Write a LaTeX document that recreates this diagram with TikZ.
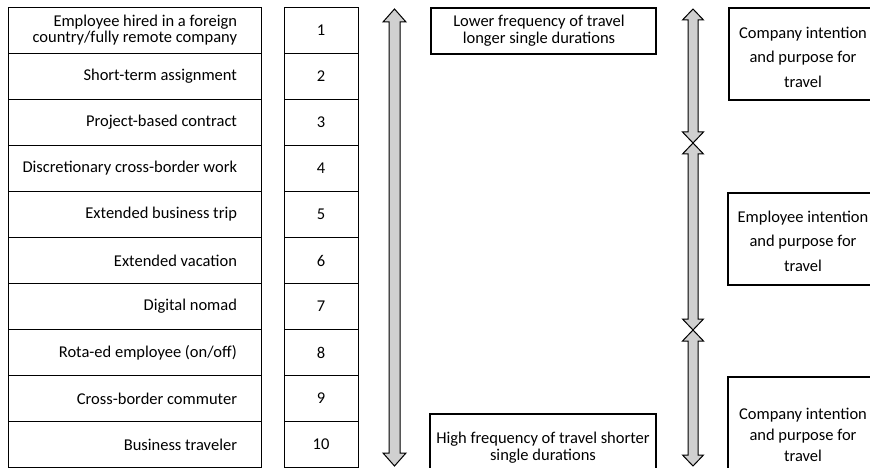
\documentclass[tikz,border=0pt]{standalone}
\usepackage{fontspec}
\setmainfont{Carlito}
\newcommand{\myfsA}{\fontsize{16.5}{16}\selectfont}
\newcommand{\myfsM}{\fontsize{16.5}{17}\selectfont}
\newcommand{\myfsB}{\fontsize{16.5}{24.5}\selectfont}
\newcommand{\myfsC}{\fontsize{16.5}{21}\selectfont}
\newcommand{\vdarr}[6]{%
  \draw[arrshape] (#1,#2) -- ({#1+#5},{#2+#6}) -- ({#1+#4},{#2+#6}) -- ({#1+#4},{#3-#6}) -- ({#1+#5},{#3-#6}) -- (#1,#3)
    -- ({#1-#5},{#3-#6}) -- ({#1-#4},{#3-#6}) -- ({#1-#4},{#2+#6}) -- ({#1-#5},{#2+#6}) -- cycle;}
\definecolor{arrgray}{RGB}{208,208,208}
\begin{document}
\begin{tikzpicture}[x=1pt,y=-1pt,
  every node/.style={inner sep=0pt, outer sep=0pt},
  lcell/.style={draw, line width=1pt, minimum width=253pt, minimum height=46pt},
  ncell/.style={draw, line width=1pt, minimum width=74pt, minimum height=46pt, font=\myfsA},
  ltext/.style={anchor=east, align=right, font=\myfsA},
  midbox/.style={draw, line width=1.6pt},
  midtext/.style={align=center, font=\myfsM},
  rbox/.style={draw, line width=1.6pt},
  rtext/.style={align=center, font=\myfsB},
  arrshape/.style={draw=black, fill=arrgray, line width=1pt, line join=miter}
]
\useasboundingbox (0,0) rectangle (870,468);
\clip (0,0) rectangle (870,468);
% left table
\foreach \i/\t in {1/{Employee hired in a foreign\\country/fully remote company},
                   2/{Short-term assignment},
                   3/{Project-based contract},
                   4/{Discretionary cross-border work},
                   5/{Extended business trip},
                   6/{Extended vacation},
                   7/{Digital nomad},
                   8/{Rota-ed employee (on/off)},
                   9/{Cross-border commuter},
                   10/{Business traveler}}{
  \node[lcell] (l\i) at (134.5, {7.5+46*(\i-1)+23}) {};
  \node[ltext] (lt\i) at (237, {7.5+46*(\i-1)+23}) {\t};
  \node[ncell] (n\i) at (321, {7.5+46*(\i-1)+23}) {\i};
}
% big arrow
\vdarr{394.5}{9}{466}{5.5}{11.5}{13}
% middle boxes
\draw[midbox] (431,8) rectangle (656,54);
\node[midtext] (top) at (539,31) {Lower frequency of travel\\longer single durations};
\draw[midbox] (430,414) rectangle (656,474);
\node[midtext] (bot) at (543,448) {High frequency of travel shorter\\single durations};
% right arrows
\vdarr{693}{9}{143}{5}{10.5}{11}
\vdarr{693}{143}{330}{5}{10.5}{11}
\vdarr{693}{330}{466}{5}{10.5}{11}
% right boxes
\draw[rbox] (729,8) rectangle (900,100);
\node[rtext] (r1) at (803,57) {Company intention\\and purpose for\\travel};
\draw[rbox] (728,193) rectangle (900,285);
\node[rtext] (r2) at (803,241) {Employee intention\\and purpose for\\travel};
\draw[rbox] (728,377) rectangle (900,500);
\node[align=center, font=\myfsC] (r3) at (803,435) {Company intention\\and purpose for\\travel};
\end{tikzpicture}
\end{document}
